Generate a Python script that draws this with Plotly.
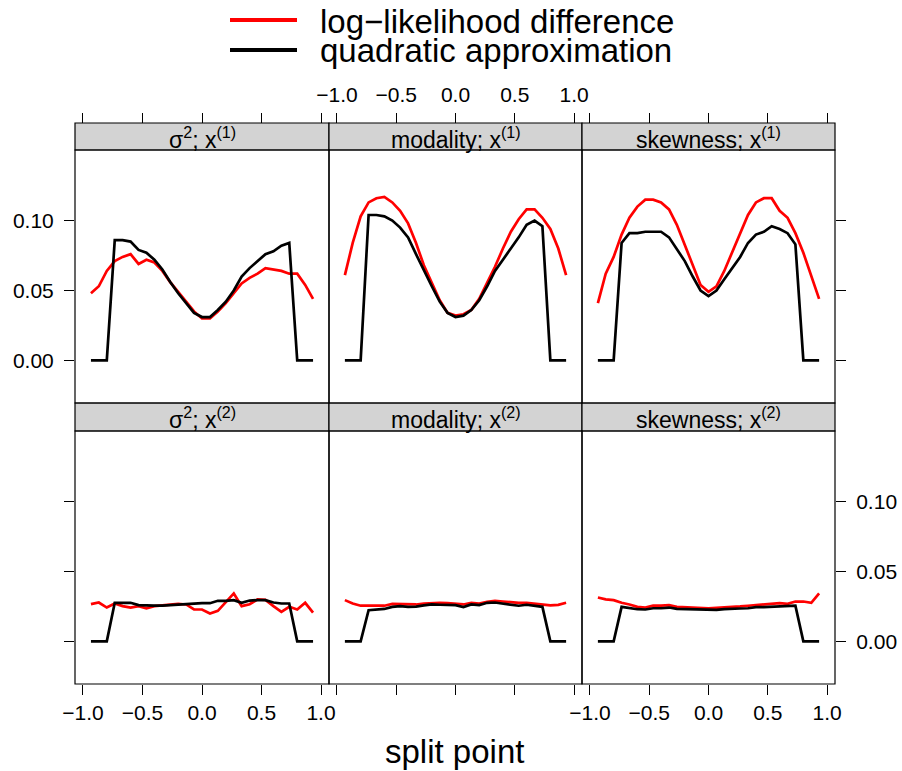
import plotly.graph_objects as go

# ---------------- data ----------------
split_point = [-0.933, -0.867, -0.8, -0.733, -0.667, -0.6, -0.533, -0.467, -0.4, -0.333,
               -0.267, -0.2, -0.133, -0.067, 0.0, 0.067, 0.133, 0.2, 0.267, 0.333,
               0.4, 0.467, 0.533, 0.6, 0.667, 0.733, 0.8, 0.867, 0.933]

series_names = ["log\u2212likelihood difference", "quadratic approximation"]
series_colors = ["#ff0000", "#000000"]

strip_titles = ["\u03c3<sup>2</sup>; x<sup>(1)</sup>", "modality; x<sup>(1)</sup>", "skewness; x<sup>(1)</sup>",
                "\u03c3<sup>2</sup>; x<sup>(2)</sup>", "modality; x<sup>(2)</sup>", "skewness; x<sup>(2)</sup>"]

ll_sigma_x1 = [0.048, 0.053, 0.064, 0.071, 0.074, 0.076, 0.069, 0.072, 0.070, 0.064, 0.056, 0.049, 0.042, 0.035, 0.030,
               0.030, 0.035, 0.041, 0.048, 0.055, 0.059, 0.062, 0.066, 0.065, 0.064, 0.062, 0.062, 0.054, 0.044]
qa_sigma_x1 = [0, 0, 0, 0.086, 0.086, 0.085, 0.079, 0.077, 0.072, 0.065, 0.056, 0.048, 0.041, 0.034, 0.031,
               0.031, 0.036, 0.042, 0.050, 0.060, 0.066, 0.071, 0.076, 0.078, 0.082, 0.084, 0, 0, 0]

ll_mod_x1 = [0.061, 0.084, 0.103, 0.113, 0.116, 0.117, 0.113, 0.107, 0.098, 0.084, 0.068, 0.055, 0.043, 0.034, 0.032,
             0.033, 0.036, 0.044, 0.055, 0.067, 0.080, 0.092, 0.101, 0.108, 0.108, 0.102, 0.094, 0.080, 0.061]
qa_mod_x1 = [0, 0, 0, 0.104, 0.104, 0.103, 0.100, 0.095, 0.088, 0.076, 0.064, 0.053, 0.042, 0.034, 0.031,
             0.032, 0.036, 0.043, 0.053, 0.064, 0.072, 0.080, 0.088, 0.097, 0.100, 0.096, 0, 0, 0]

ll_skew_x1 = [0.041, 0.062, 0.074, 0.090, 0.102, 0.110, 0.115, 0.115, 0.113, 0.108, 0.097, 0.083, 0.068, 0.054, 0.049,
              0.053, 0.064, 0.077, 0.090, 0.104, 0.113, 0.116, 0.116, 0.107, 0.102, 0.091, 0.077, 0.061, 0.044]
qa_skew_x1 = [0, 0, 0, 0.084, 0.091, 0.091, 0.092, 0.092, 0.092, 0.088, 0.080, 0.071, 0.060, 0.050, 0.046,
              0.050, 0.058, 0.066, 0.074, 0.084, 0.090, 0.092, 0.096, 0.094, 0.091, 0.083, 0, 0, 0]

ll_sigma_x2 = [0.0266, 0.0278, 0.0242, 0.0271, 0.0252, 0.0242, 0.0252, 0.0237, 0.0252, 0.0257, 0.0261, 0.0268, 0.0264,
               0.0228, 0.0228, 0.0199, 0.0218, 0.0283, 0.0343, 0.0252, 0.0266, 0.0300, 0.0297, 0.0252, 0.0211, 0.0247,
               0.0228, 0.0276, 0.0206]
qa_sigma_x2 = [0, 0, 0, 0.0276, 0.0276, 0.0276, 0.0259, 0.0255, 0.0255, 0.0255, 0.0259, 0.0264, 0.0266, 0.0271, 0.0273,
               0.0273, 0.0290, 0.0290, 0.0295, 0.0276, 0.0292, 0.0295, 0.0295, 0.0278, 0.0271, 0.0271, 0, 0, 0]

ll_mod_x2 = [0.0295, 0.0271, 0.0255, 0.0255, 0.0255, 0.0255, 0.0268, 0.0268, 0.0264, 0.0264, 0.0271, 0.0276, 0.0276,
             0.0273, 0.0271, 0.0264, 0.0276, 0.0271, 0.0283, 0.0290, 0.0285, 0.0278, 0.0276, 0.0276, 0.0271, 0.0266,
             0.0257, 0.0261, 0.0276]
qa_mod_x2 = [0, 0, 0, 0.0223, 0.0230, 0.0232, 0.0247, 0.0252, 0.0247, 0.0249, 0.0257, 0.0264, 0.0262, 0.0262, 0.0259,
             0.0245, 0.0264, 0.0259, 0.0276, 0.0278, 0.0271, 0.0264, 0.0255, 0.0262, 0.0255, 0.0247, 0, 0, 0]

ll_skew_x2 = [0.0314, 0.0300, 0.0295, 0.0276, 0.0264, 0.0247, 0.0242, 0.0255, 0.0255, 0.0259, 0.0247, 0.0245, 0.0242,
              0.0237, 0.0237, 0.0240, 0.0242, 0.0245, 0.0250, 0.0255, 0.0259, 0.0262, 0.0264, 0.0273, 0.0268, 0.0285,
              0.0285, 0.0276, 0.0343]
qa_skew_x2 = [0, 0, 0, 0.0247, 0.0237, 0.0230, 0.0228, 0.0237, 0.0237, 0.0242, 0.0232, 0.0230, 0.0230, 0.0225, 0.0225,
              0.0225, 0.0230, 0.0230, 0.0235, 0.0237, 0.0245, 0.0245, 0.0247, 0.0252, 0.0252, 0.0255, 0, 0, 0]

x_tickvals = [-1.0, -0.5, 0.0, 0.5, 1.0]
x_ticktext = ["\u22121.0", "\u22120.5", "0.0", "0.5", "1.0"]
y_tickvals = [0.0, 0.05, 0.10]
y_ticktext = ["0.00", "0.05", "0.10"]
x_label = "split point"

# ---------------- layout helpers ----------------
W, H = 902, 771
FONT = "Liberation Sans, Arial, Helvetica, sans-serif"


def fx(p):
    return p / W


def fy(p):
    return 1 - p / H


col_px = [(75, 329), (329, 582), (582, 835)]
row_plot_px = [(150, 403), (431, 684)]
row_strip_px = [(123, 150), (403, 431)]
x_range = [-1.067, 1.067]
y_range = [-0.0305, 0.1505]

panels = [(ll_sigma_x1, qa_sigma_x1), (ll_mod_x1, qa_mod_x1), (ll_skew_x1, qa_skew_x1),
          (ll_sigma_x2, qa_sigma_x2), (ll_mod_x2, qa_mod_x2), (ll_skew_x2, qa_skew_x2)]

fig = go.Figure()
layout = dict(width=W, height=H, autosize=False, margin=dict(l=0, r=0, t=0, b=0, pad=0),
              paper_bgcolor="white", plot_bgcolor="white", showlegend=False,
              font=dict(family=FONT, color="black"))
shapes = []
annotations = []
tickfont = dict(family=FONT, size=21, color="black")

for i, (ll, qa) in enumerate(panels):
    r, c = divmod(i, 3)
    n = i + 1
    xs = "x" if n == 1 else f"x{n}"
    ys = "y" if n == 1 else f"y{n}"
    for vals, col in ((ll, series_colors[0]), (qa, series_colors[1])):
        fig.add_trace(go.Scatter(x=split_point, y=vals, mode="lines", xaxis=xs, yaxis=ys,
                                 line=dict(color=col, width=2.7), hoverinfo="skip"))
    xd = [fx(col_px[c][0]), fx(col_px[c][1])]
    yd = [fy(row_plot_px[r][1]), fy(row_plot_px[r][0])]
    xa = dict(domain=xd, range=x_range, showgrid=False, zeroline=False, showline=False, automargin=False,
              tickvals=x_tickvals, ticktext=x_ticktext, ticks="outside", ticklen=10,
              tickwidth=1, tickcolor="black", tickfont=tickfont)
    if r == 0:
        xa.update(anchor="free", position=fy(row_strip_px[0][0]), side="top",
                  showticklabels=(c == 1), ticklabelstandoff=3)
    else:
        xa.update(anchor=ys, side="bottom", showticklabels=(c != 1), ticklabelstandoff=0)
    ya = dict(domain=yd, range=y_range, anchor=xs, showgrid=False, zeroline=False, showline=False,
              automargin=False, tickvals=y_tickvals, ticktext=y_ticktext, tickwidth=1, tickcolor="black",
              ticklen=10, tickfont=tickfont)
    if c == 0:
        ya.update(side="left", ticks="outside", showticklabels=(r == 0), ticklabelstandoff=6)
    elif c == 2:
        ya.update(side="right", ticks="outside", showticklabels=(r == 1), ticklabelstandoff=6)
    else:
        ya.update(ticks="", showticklabels=False)
    layout["xaxis" if n == 1 else f"xaxis{n}"] = xa
    layout["yaxis" if n == 1 else f"yaxis{n}"] = ya

    # panel frame and strip
    shapes.append(dict(type="rect", xref="paper", yref="paper", x0=xd[0], x1=xd[1], y0=yd[0], y1=yd[1],
                       line=dict(color="black", width=1.2), fillcolor="rgba(0,0,0,0)", layer="above"))
    s0, s1 = row_strip_px[r]
    shapes.append(dict(type="rect", xref="paper", yref="paper", x0=xd[0], x1=xd[1], y0=fy(s1), y1=fy(s0),
                       line=dict(color="black", width=1.2), fillcolor="#d3d3d3", layer="below"))
    annotations.append(dict(xref="paper", yref="paper", x=(xd[0] + xd[1]) / 2, y=fy((s0 + s1) / 2 + 1),
                            text=strip_titles[i], showarrow=False, xanchor="center", yanchor="middle",
                            font=dict(family=FONT, size=23, color="black")))

# legend (manual, lattice style)
leg_rows = [21, 51]
for k in range(2):
    shapes.append(dict(type="line", xref="paper", yref="paper", x0=fx(230), x1=fx(297),
                       y0=fy(leg_rows[k] - 1), y1=fy(leg_rows[k] - 1),
                       line=dict(color=series_colors[k], width=4)))
    annotations.append(dict(xref="paper", yref="paper", x=fx(318), y=fy(leg_rows[k]), text=series_names[k],
                            showarrow=False, xanchor="left", yanchor="middle",
                            font=dict(family=FONT, size=33, color="black")))

annotations.append(dict(xref="paper", yref="paper", x=fx(455), y=0, text=x_label, showarrow=False,
                        xanchor="center", yanchor="bottom", borderpad=0,
                        font=dict(family=FONT, size=33, color="black")))

layout["shapes"] = shapes
layout["annotations"] = annotations
fig.update_layout(**layout)
fig.write_html("out.html", config={"displayModeBar": False},
               post_script="document.body.style.margin='0';document.body.style.padding='0';"
                           "document.body.style.overflow='hidden';")
